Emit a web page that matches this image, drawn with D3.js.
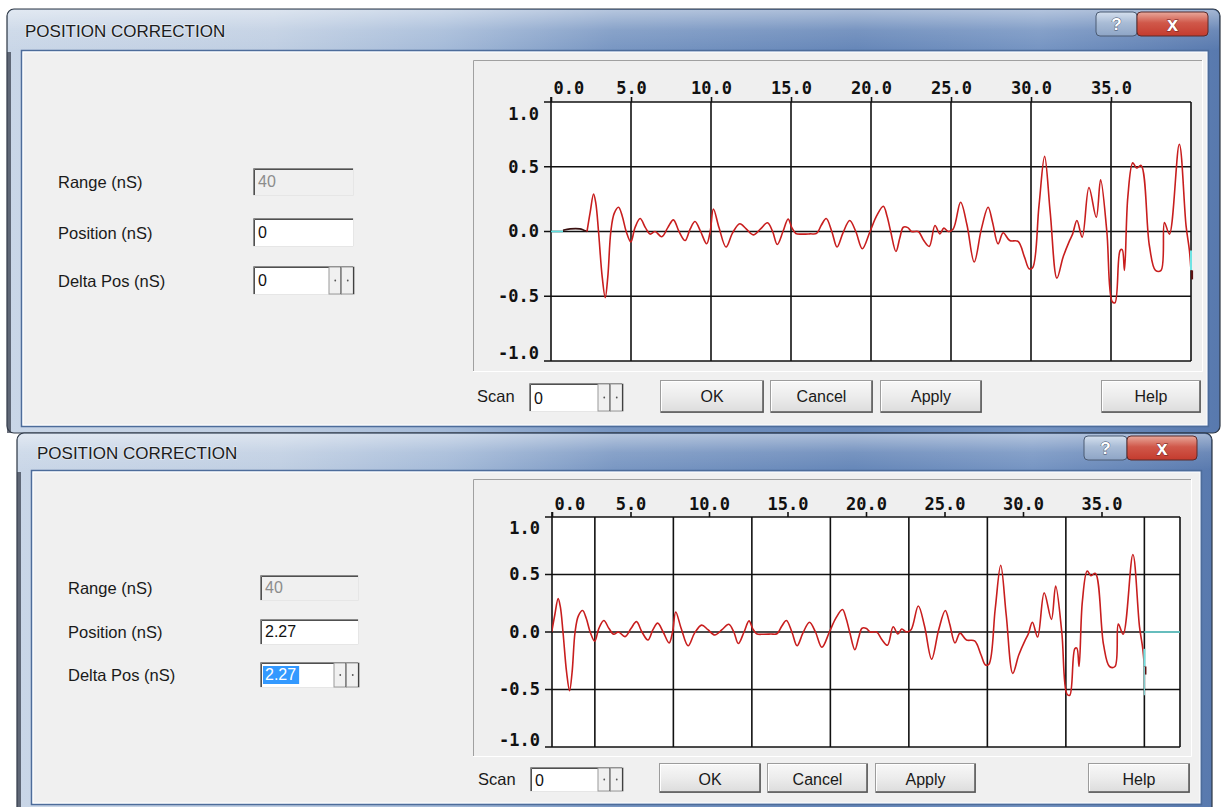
<!DOCTYPE html>
<html><head><meta charset="utf-8">
<script src="https://cdn.jsdelivr.net/npm/d3@7"></script>
<style>body{margin:0;background:#fff;overflow:hidden} svg{display:block}</style>
</head><body>
<svg id="c" width="1224" height="807"></svg>
<script>
// ---------------- DATA ----------------
const rangeNs = 40;
const leadInTimeNs = [0.75, 1.2, 1.8, 2.05, 2.25];
const leadInAmplitude = [0.01, 0.02, 0.02, 0.01, 0.0];
const timeNs = [2.25,2.45,2.66,2.8,2.97,3.2,3.39,3.55,3.74,3.95,4.22,4.45,4.7,4.99,5.25,5.57,5.9,6.2,6.5,6.92,7.3,7.65,8.0,8.38,8.7,9.0,9.35,9.73,9.95,10.15,10.5,10.94,11.35,11.8,12.2,12.64,13.1,13.53,13.85,14.14,14.5,14.82,15.05,15.3,15.7,16.2,16.6,16.9,17.2,17.55,17.88,18.25,18.67,19.05,19.46,19.94,20.35,20.77,21.0,21.23,21.56,21.8,22.02,22.3,22.54,22.95,23.3,23.64,24.0,24.3,24.55,24.83,25.14,25.6,26.0,26.45,26.9,27.32,27.6,27.94,28.26,28.67,29.19,29.6,29.88,30.1,30.5,30.85,31.2,31.62,32.0,32.41,32.6,32.87,33.2,33.62,34.08,34.35,34.74,35.07,35.25,35.57,35.7,35.84,36.05,36.36,36.6,36.88,37.4,37.78,38.13,38.34,38.65,39.27,39.69,39.9,40.0];
const amplitude = [0.0,0.15,0.29,0.22,0.0,-0.35,-0.51,-0.35,0.0,0.14,0.187,0.12,0.0,-0.08,0.03,0.10,0.03,-0.02,0.0,-0.04,0.03,0.09,0.0,-0.07,0.02,0.077,0.0,-0.095,0.0,0.174,0.03,-0.12,-0.01,0.06,0.02,-0.026,0.02,0.067,0.0,-0.10,0.0,0.097,0.03,-0.015,-0.02,-0.018,-0.015,0.05,0.10,0.0,-0.12,-0.01,0.085,0.0,-0.133,0.0,0.12,0.195,0.12,0.0,-0.154,-0.05,0.033,0.03,0.0,0.0,-0.07,-0.115,0.046,-0.018,0.026,0.0,0.02,0.226,0.05,-0.236,0.02,0.187,0.07,-0.095,-0.01,-0.07,-0.077,-0.2,-0.287,-0.28,0.2,0.58,0.15,-0.36,-0.2,-0.07,-0.02,0.085,-0.044,0.34,0.11,0.40,0.0,-0.54,-0.55,-0.146,-0.14,-0.30,0.264,0.53,0.49,0.51,-0.11,-0.30,-0.30,0.07,-0.02,0.674,0.046,-0.146,-0.30];
const xTickValues = [0,5,10,15,20,25,30,35];
const yTickValues = [1.0,0.5,0.0,-0.5,-1.0];
const dialogTitles = ["POSITION CORRECTION","POSITION CORRECTION"];
const fieldLabels = ["Range (nS)","Position (nS)","Delta Pos (nS)"];
const rangeValues = ["40","40"];
const positionValues = ["0","2.27"];
const deltaPosValues = ["0","2.27"];
const scanValues = ["0","0"];
const buttonLabels = ["OK","Cancel","Apply","Help"];
const shiftNs = [0, 2.27];

// ---------------- LAYOUT ----------------
const layouts = [
  { frame:{x:7,y:9,w:1213,h:424}, titleH:43, client:{x1:23,y1:52,x2:1207,y2:425},
    titleX:25, titleY:37, helpBtn:{x:1096,y:12,w:41,h:24}, closeBtn:{x:1137,y:12,w:71,h:24},
    labelX:58, rows:[{y1:168,y2:196},{y1:218,y2:247},{y1:266,y2:295}], boxX1:253, boxX2:354,
    panel:{x1:473,y1:60,x2:1203,y2:372}, plot:{x1:551,y1:102,x2:1191,y2:361},
    xPad:3.5, yTopOff:12, yBotOff:-8,
    scanX:477, scanY:402, scanBox:{x1:529,y1:383,x2:623,y2:412}, btnY1:380, btnY2:413,
    btns:[[660,764],[770,873],[880,982],[1101,1201]], btnTextY:402 },
  { frame:{x:17,y:433,w:1195,h:400}, titleH:39, client:{x1:33,y1:472,x2:1200,y2:803},
    titleX:37, titleY:459, helpBtn:{x:1084,y:436,w:43,h:24}, closeBtn:{x:1127,y:436,w:70,h:24},
    labelX:68, rows:[{y1:575,y2:601},{y1:619,y2:645},{y1:662,y2:688}], boxX1:260, boxX2:359,
    panel:{x1:473,y1:479,x2:1192,y2:757}, plot:{x1:552,y1:517,x2:1180,y2:747},
    xPad:1.8, yTopOff:11, yBotOff:-7,
    scanX:478, scanY:785, scanBox:{x1:530,y1:767,x2:623,y2:792}, btnY1:763, btnY2:793,
    btns:[[659,761],[767,868],[875,976],[1088,1190]], btnTextY:785 }
];

const UI_FONT = "'Liberation Sans', Arial, sans-serif";
const AX_FONT = "'DejaVu Sans Mono', monospace";

const svg = d3.select("#c");
const defs = svg.append("defs");
function grad(id, vertical, stops){
  const g = defs.append("linearGradient").attr("id",id)
    .attr("x1",0).attr("y1",0).attr("x2",vertical?0:1).attr("y2",vertical?1:0);
  stops.forEach(([o,c,op])=>g.append("stop").attr("offset",o).attr("stop-color",c).attr("stop-opacity",op==null?1:op));
}
grad("titleGrad", false, [[0,"#c9d6e7"],[0.22,"#bfcee2"],[0.36,"#a4bad8"],[0.5,"#7896c2"],[0.7,"#6586b8"],[0.85,"#7594c2"],[1,"#5879ae"]]);
grad("glossGrad", true, [[0,"#ffffff",0.45],[0.5,"#ffffff",0.12],[1,"#ffffff",0]]);
grad("btnGrad", true, [[0,"#f8f8f8"],[0.5,"#ececec"],[1,"#dcdcdc"]]);
grad("closeGrad", true, [[0,"#e9a99c"],[0.45,"#d0584a"],[1,"#c43b2e"]]);
grad("helpGrad", true, [[0,"#d5e0ee"],[0.45,"#a9bcd6"],[1,"#8ea5c6"]]);

function box(g, x1, y1, x2, y2, fill){
  g.append("rect").attr("x",x1).attr("y",y1).attr("width",x2-x1).attr("height",y2-y1).attr("fill",fill);
  g.append("path").attr("d",`M${x1+0.5},${y2}V${y1+0.5}H${x2}`).attr("fill","none").attr("stroke","#8a8a8a").attr("stroke-width",1);
  g.append("path").attr("d",`M${x1+1.5},${y2-1}V${y1+1.5}H${x2-1}`).attr("fill","none").attr("stroke","#505050").attr("stroke-width",1);
  g.append("path").attr("d",`M${x1},${y2-0.5}H${x2-0.5}V${y1}`).attr("fill","none").attr("stroke","#e6e6e6").attr("stroke-width",1);
}
function spin(g, x2, y1, y2){
  const w = 12.5;
  [x2-2*w, x2-w].forEach(sx=>{
    g.append("rect").attr("x",sx).attr("y",y1+1).attr("width",w).attr("height",y2-y1-2)
      .attr("fill","#f0f0f0").attr("stroke","#9a9a9a").attr("stroke-width",1);
    g.append("path").attr("d",`M${sx+w-0.5},${y1+1}V${y2-1}`).attr("stroke","#404040").attr("stroke-width",1.2);
    g.append("circle").attr("cx",sx+w/2).attr("cy",(y1+y2)/2).attr("r",0.9).attr("fill","#555");
  });
}
function button(g, x1, y1, x2, y2, label, ty){
  g.append("rect").attr("x",x1+0.5).attr("y",y1+0.5).attr("width",x2-x1-1).attr("height",y2-y1-1)
    .attr("fill","url(#btnGrad)").attr("stroke","#9c9c9c").attr("stroke-width",1);
  g.append("path").attr("d",`M${x1+1},${y2-1}H${x2-1}V${y1+1}`).attr("fill","none").attr("stroke","#555").attr("stroke-width",1.5);
  g.append("path").attr("d",`M${x1+1.5},${y2-2}V${y1+1.5}H${x2-2}`).attr("fill","none").attr("stroke","#ffffff").attr("stroke-width",1);
  g.append("text").attr("x",(x1+x2)/2).attr("y",ty).attr("text-anchor","middle")
    .attr("font-family",UI_FONT).attr("font-size",16).attr("fill","#1a1a1a").text(label);
}

function drawChart(g, L, shift){
  const P = L.plot;
  const x = d3.scaleLinear().domain([0,rangeNs]).range([P.x1,P.x2]);
  const y = d3.scaleLinear().domain([-1,1]).range([P.y2,P.y1]);
  const cid = "clip"+Math.round(shift*100);
  defs.append("clipPath").attr("id",cid).append("rect").attr("x",P.x1).attr("y",P.y1-2).attr("width",P.x2-P.x1+3).attr("height",P.y2-P.y1+4);

  // panel
  g.append("rect").attr("x",L.panel.x1).attr("y",L.panel.y1).attr("width",L.panel.x2-L.panel.x1).attr("height",L.panel.y2-L.panel.y1)
    .attr("fill","#efefef");
  g.append("path").attr("d",`M${L.panel.x1+0.5},${L.panel.y2}V${L.panel.y1+0.5}H${L.panel.x2}`).attr("fill","none").attr("stroke","#a0a0a0");
  g.append("path").attr("d",`M${L.panel.x1},${L.panel.y2-0.5}H${L.panel.x2-0.5}V${L.panel.y1}`).attr("fill","none").attr("stroke","#ffffff");
  g.append("rect").attr("x",P.x1).attr("y",P.y1).attr("width",P.x2-P.x1).attr("height",P.y2-P.y1).attr("fill","#ffffff");

  // vertical grid lines (follow shifted data)
  const gridVals = xTickValues.concat([rangeNs]).map(v=>v-shift).filter(v=>v>0.05 && v<rangeNs-0.05);
  g.selectAll(null).data(gridVals).join("line")
    .attr("x1",d=>x(d)).attr("x2",d=>x(d)).attr("y1",P.y1).attr("y2",P.y2)
    .attr("stroke","#111").attr("stroke-width",1.6);
  // horizontal grid lines
  g.selectAll(null).data(yTickValues).join("line")
    .attr("x1",P.x1-7).attr("x2",P.x2).attr("y1",d=>y(d)).attr("y2",d=>y(d))
    .attr("stroke","#111").attr("stroke-width",1.6);
  g.append("line").attr("x1",P.x1).attr("x2",P.x1).attr("y1",P.y1-5).attr("y2",P.y2).attr("stroke","#111").attr("stroke-width",1.6);
  g.append("line").attr("x1",P.x2).attr("x2",P.x2).attr("y1",P.y1).attr("y2",P.y2).attr("stroke","#111").attr("stroke-width",1.6);

  // axes
  const ax = g.append("g").attr("transform",`translate(0,${P.y1})`)
    .call(d3.axisTop(x).tickValues(xTickValues).tickSize(5).tickPadding(L.xPad).tickFormat(d=>d.toFixed(1)));
  ax.select(".domain").remove();
  ax.selectAll("line").attr("stroke","#111").attr("stroke-width",1.6);
  ax.selectAll("text").attr("font-family",AX_FONT).attr("font-weight","bold").attr("font-size",17).attr("fill","#111")
    .each(function(d){
      const w = this.getComputedTextLength();
      const cx = x(d);
      if (cx - w/2 < P.x1 + 2) d3.select(this).attr("x", (P.x1 + 2) - cx + w/2);
    });
  const ay = g.append("g").attr("transform",`translate(${P.x1},0)`)
    .call(d3.axisLeft(y).tickValues(yTickValues).tickSize(7).tickPadding(5).tickFormat(d=>d.toFixed(1)));
  ay.select(".domain").remove();
  ay.selectAll("line").remove();
  ay.selectAll("text").attr("font-family",AX_FONT).attr("font-weight","bold").attr("font-size",17).attr("fill","#111")
    .attr("x",-12)
    .attr("y",d=> d===1 ? L.yTopOff : (d===-1 ? L.yBotOff : 0));

  // traces
  const cg = g.append("g").attr("clip-path",`url(#${cid})`);
  const line = d3.line().x(d=>x(d[0]-shift)).y(d=>y(d[1])).curve(d3.curveCatmullRom.alpha(0.5));
  const lead = leadInTimeNs.map((t,i)=>[t, leadInAmplitude[i]]);
  const main = timeNs.map((t,i)=>[t, amplitude[i]]);
  const tEnd = timeNs[timeNs.length-1];
  if (leadInTimeNs[0]-shift > 0) {
    cg.append("line").attr("x1",x(0)).attr("x2",x(leadInTimeNs[0]-shift)).attr("y1",y(0)).attr("y2",y(0))
      .attr("stroke","#5fe0e0").attr("stroke-width",1.6);
  }
  cg.append("path").datum(lead).attr("d",line).attr("fill","none").attr("stroke","#3a1010").attr("stroke-width",1.6);
  cg.append("path").datum(main).attr("d",line).attr("fill","none").attr("stroke","#c81e1e").attr("stroke-width",1.6).attr("stroke-linejoin","round");
  const endX = x(tEnd - shift);
  const vPrev = amplitude[amplitude.length-2], vEnd = amplitude[amplitude.length-1];
  cg.append("line").attr("x1",endX).attr("x2",endX).attr("y1",y(vPrev)).attr("y2",y(vEnd))
    .attr("stroke","#6fe3e3").attr("stroke-width",2);
  cg.append("line").attr("x1",endX+1).attr("x2",endX+1).attr("y1",y(vEnd)).attr("y2",y(vEnd-0.07))
    .attr("stroke","#5a1010").attr("stroke-width",2.2);
  if (shift > 0) {
    cg.append("line").attr("x1",endX).attr("x2",x(rangeNs)).attr("y1",y(0)).attr("y2",y(0))
      .attr("stroke","#6fe3e3").attr("stroke-width",1.6);
    cg.append("line").attr("x1",endX).attr("x2",endX).attr("y1",y(vEnd)).attr("y2",y(-0.55))
      .attr("stroke","#8ad8d8").attr("stroke-width",1.2);
  }
}

function drawDialog(i){
  const L = layouts[i];
  const g = svg.append("g");
  const F = L.frame;
  g.append("rect").attr("x",F.x).attr("y",F.y).attr("width",F.w).attr("height",F.h).attr("rx",7)
    .attr("fill","url(#titleGrad)").attr("stroke","#2c3644").attr("stroke-width",1.2);
  g.append("rect").attr("x",F.x+1).attr("y",F.y+1).attr("width",F.w-2).attr("height",L.titleH-2).attr("rx",6)
    .attr("fill","url(#glossGrad)");
  g.append("rect").attr("x",F.x).attr("y",F.y+L.titleH).attr("width",4).attr("height",F.h-L.titleH).attr("fill","#3b4250").attr("opacity",0.75);
  const C = L.client;
  g.append("rect").attr("x",C.x1-1.5).attr("y",C.y1-1.5).attr("width",C.x2-C.x1+3).attr("height",C.y2-C.y1+3)
    .attr("fill","none").attr("stroke","#4d6c9a").attr("stroke-width",1.5);
  g.append("rect").attr("x",C.x1).attr("y",C.y1).attr("width",C.x2-C.x1).attr("height",C.y2-C.y1)
    .attr("fill","#f0f0f0").attr("stroke","#ffffff").attr("stroke-width",1);
  g.append("text").attr("x",L.titleX).attr("y",L.titleY).attr("font-family",UI_FONT).attr("font-size",17)
    .attr("fill","#1c1c1c").attr("stroke","#ffffff").attr("stroke-opacity",0.35).attr("stroke-width",2).attr("paint-order","stroke")
    .text(dialogTitles[i]);
  const H = L.helpBtn, X = L.closeBtn;
  g.append("rect").attr("x",H.x).attr("y",H.y).attr("width",H.w).attr("height",H.h).attr("rx",4)
    .attr("fill","url(#helpGrad)").attr("stroke","#4a5a72").attr("stroke-width",1);
  g.append("text").attr("x",H.x+H.w/2).attr("y",H.y+H.h/2+6).attr("text-anchor","middle").attr("font-family",UI_FONT)
    .attr("font-weight","bold").attr("font-size",17).attr("fill","#ffffff").attr("stroke","#3c4c66").attr("stroke-width",0.8).attr("paint-order","stroke").text("?");
  g.append("rect").attr("x",X.x).attr("y",X.y).attr("width",X.w).attr("height",X.h).attr("rx",4)
    .attr("fill","url(#closeGrad)").attr("stroke","#5a2a2a").attr("stroke-width",1);
  g.append("text").attr("x",X.x+X.w/2).attr("y",X.y+X.h/2+7).attr("text-anchor","middle").attr("font-family",UI_FONT)
    .attr("font-weight","bold").attr("font-size",20).attr("fill","#ffffff").attr("stroke","#6a2020").attr("stroke-width",0.8).attr("paint-order","stroke").text("x");

  const values = [rangeValues[i], positionValues[i], deltaPosValues[i]];
  L.rows.forEach((r,k)=>{
    const cy = (r.y1+r.y2)/2;
    g.append("text").attr("x",L.labelX).attr("y",cy+6).attr("font-family",UI_FONT).attr("font-size",16.5)
      .attr("fill","#1a1a1a").text(fieldLabels[k]);
    box(g, L.boxX1, r.y1, L.boxX2, r.y2, k===0 ? "#f0f0f0" : "#ffffff");
    if (k===2) spin(g, L.boxX2, r.y1, r.y2);
    const t = g.append("text").attr("x",L.boxX1+5).attr("y",cy+5).attr("font-family",UI_FONT).attr("font-size",16)
      .attr("fill", k===0 ? "#8c8c8c" : "#111").text(values[k]);
    if (k===2 && i===1) {
      const w = t.node().getComputedTextLength();
      g.insert("rect", () => t.node()).attr("x",L.boxX1+3).attr("y",r.y1+4).attr("width",w+5).attr("height",r.y2-r.y1-8).attr("fill","#3399ff");
      t.attr("fill","#ffffff");
    }
  });

  drawChart(g, L, shiftNs[i]);

  g.append("text").attr("x",L.scanX).attr("y",L.scanY).attr("font-family",UI_FONT).attr("font-size",16.5).attr("fill","#1a1a1a").text("Scan");
  const S = L.scanBox;
  box(g, S.x1, S.y1, S.x2, S.y2, "#ffffff");
  spin(g, S.x2, S.y1, S.y2);
  g.append("text").attr("x",S.x1+5).attr("y",(S.y1+S.y2)/2+6).attr("font-family",UI_FONT).attr("font-size",16).attr("fill","#111").text(scanValues[i]);
  L.btns.forEach((b,k)=>button(g, b[0], L.btnY1, b[1], L.btnY2, buttonLabels[k], L.btnTextY));
}

drawDialog(0);
drawDialog(1);
</script>
</body></html>
